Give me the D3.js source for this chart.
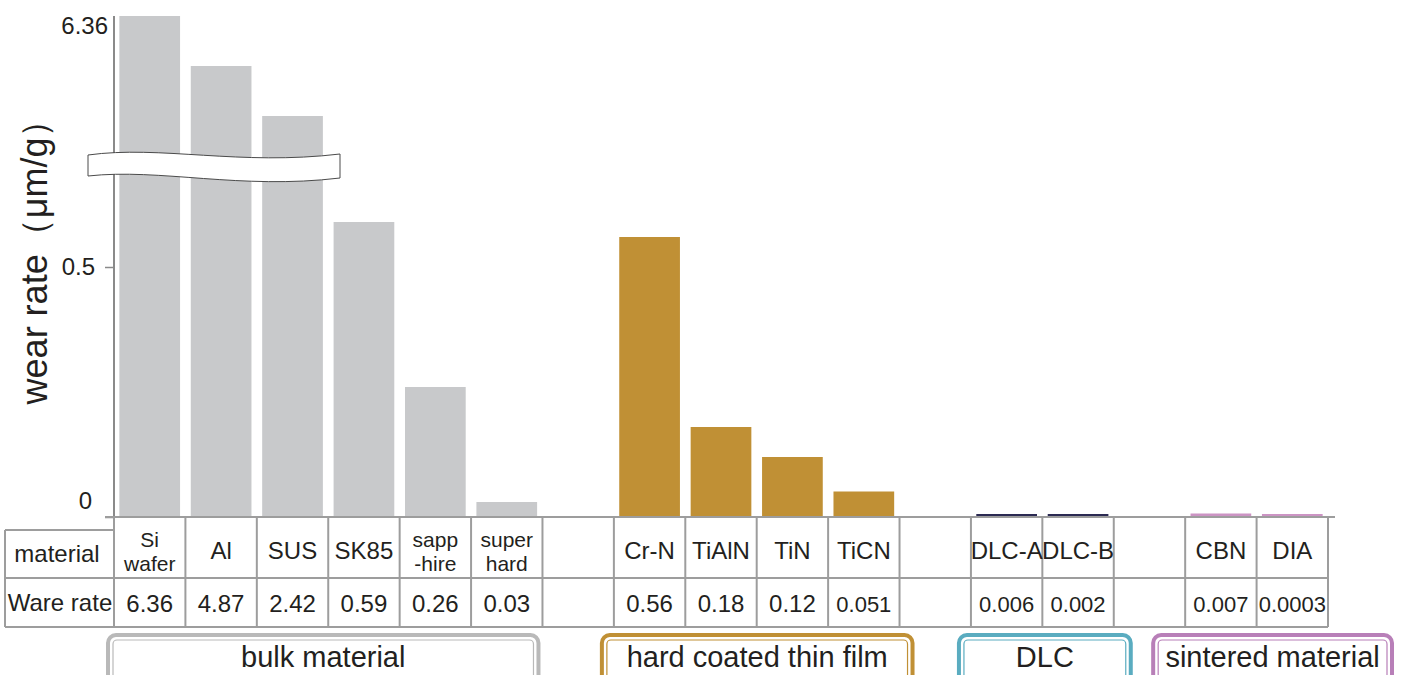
<!DOCTYPE html>
<html lang="en">
<head>
<meta charset="UTF-8" />
<title>Wear rate by material</title>
<style>
  body { margin: 0; background: #ffffff; }
  svg { display: block; font-family: 'Liberation Sans', Arial, Helvetica, sans-serif; }
  .grid { stroke: #9d9d9d; stroke-width: 2; fill: none; }
  .cell-text { fill: #231f20; font-size: 24px; }
</style>
<script src="https://d3js.org/d3.v7.min.js"></script>
</head>
<body>
<div id="viz"></div>
<script>
  // categories (blank slots separate the groups)
  const categories = ['Si wafer', 'Al', 'SUS', 'SK85', 'sapphire', 'superhard', 'gap1',
                      'Cr-N', 'TiAlN', 'TiN', 'TiCN', 'gap2',
                      'DLC-A', 'DLC-B', 'gap3', 'CBN', 'DIA'];
  const nameLabels = [['Si', 'wafer'], ['Al'], ['SUS'], ['SK85'], ['sapp', '-hire'], ['super', 'hard'], [],
                      ['Cr-N'], ['TiAlN'], ['TiN'], ['TiCN'], [],
                      ['DLC-A'], ['DLC-B'], [], ['CBN'], ['DIA']];
  const wearValues = [6.36, 4.87, 2.42, 0.59, 0.26, 0.03, null,
                      0.56, 0.18, 0.12, 0.051, null,
                      0.006, 0.002, null, 0.007, 0.0003];
  const valueLabels = ['6.36', '4.87', '2.42', '0.59', '0.26', '0.03', '',
                       '0.56', '0.18', '0.12', '0.051', '',
                       '0.006', '0.002', '', '0.007', '0.0003'];
  const groupOf = ['bulk', 'bulk', 'bulk', 'bulk', 'bulk', 'bulk', null,
                   'hard', 'hard', 'hard', 'hard', null,
                   'dlc', 'dlc', null, 'sint', 'sint'];
  const groupNames = ['bulk', 'hard', 'dlc', 'sint'];
  const groupLabels = ['bulk material', 'hard coated thin film', 'DLC', 'sintered material'];
  const groupColors = ['#c8c9cb', '#c09035', '#2b2a52', '#cc94c4'];
  const groupBorders = ['#b9b9b9', '#c09035', '#5aacc0', '#b87fb8'];
  const yTicks = [0, 0.5, 6.36];

  const width = 1403, height = 675;
  const svg = d3.select('#viz').append('svg')
    .attr('width', width).attr('height', height);

  // column scale (table) and bar scale share the same steps
  const xCol = d3.scaleBand().domain(categories).range([114, 1328]);
  const xBar = d3.scaleBand().domain(categories).range([114, 1328])
    .paddingInner(0.15).paddingOuter(0.075);

  // broken axis: linear below the break, compressed above it
  const y = d3.scaleLinear()
    .domain([0, 0.62, 2.42, 4.87, 6.36])
    .range([517, 207, 116, 66, 16]);

  const colour = d3.scaleOrdinal().domain(groupNames).range(groupColors);
  const border = d3.scaleOrdinal().domain(groupNames).range(groupBorders);

  const rows = categories.map((c, i) => ({
    cat: c, names: nameLabels[i], value: wearValues[i], label: valueLabels[i], group: groupOf[i]
  }));

  // bars (tiny values kept visible with a minimum height)
  const minH = 3;
  svg.append('g').selectAll('rect')
    .data(rows.filter(d => d.value !== null))
    .join('rect')
    .attr('x', d => xBar(d.cat))
    .attr('width', xBar.bandwidth())
    .attr('y', d => Math.min(y(d.value), y(0) - minH))
    .attr('height', d => Math.max(y(0) - y(d.value), minH))
    .attr('fill', d => colour(d.group));

  // y axis
  const yAxis = svg.append('g')
    .attr('transform', 'translate(114,0)')
    .call(d3.axisLeft(y).tickValues(yTicks).tickSize(9).tickPadding(10).tickFormat(d3.format('')));
  yAxis.select('.domain').remove();
  yAxis.selectAll('line').attr('stroke', '#8a8a8a').attr('stroke-width', 1.5);
  yAxis.selectAll('text').attr('fill', '#231f20').style('font-size', '24px')
    .style('font-family', "'Liberation Sans', Arial, sans-serif");
  yAxis.selectAll('.tick').filter(d => d === 6.36).select('line').remove();
  yAxis.selectAll('.tick').filter(d => d === 6.36).select('text').attr('dy', '0.74em').attr('x', -6);
  yAxis.selectAll('.tick').filter(d => d === 0).select('text').attr('dy', '-0.35em').attr('x', -22);
  yAxis.selectAll('.tick').filter(d => d === 0.5).select('text').attr('x', -19);
  svg.append('line')
    .attr('x1', 114).attr('x2', 114)
    .attr('y1', y(6.36)).attr('y2', y(0))
    .attr('stroke', '#8a8a8a').attr('stroke-width', 2);
  svg.append('line')
    .attr('x1', 105).attr('x2', 1335)
    .attr('y1', y(0)).attr('y2', y(0))
    .attr('stroke', '#9d9d9d').attr('stroke-width', 2);

  // axis break
  svg.append('path')
    .attr('d', 'M88,155 C160,145 240,166 340,154 L340,178 C240,190 160,168 88,176 Z')
    .attr('fill', '#ffffff').attr('stroke', '#4a4a4a').attr('stroke-width', 1);

  // y label
  svg.append('text')
    .attr('transform', 'translate(47,253) rotate(-90)')
    .attr('text-anchor', 'middle')
    .attr('fill', '#231f20')
    .style('font-size', '36px')
    .text('wear rate（μm/g）');

  // table
  const tTop = 517, tMid = 578, tBot = 627;
  const table = svg.append('g');
  table.append('path').attr('class', 'grid')
    .attr('d', `M5,530 H114 M5,${tMid} H1328 M5,${tBot} H1328 M5,530 V${tBot}`);
  table.selectAll('line.col')
    .data(categories.concat(['end']))
    .join('line')
    .attr('class', 'grid')
    .attr('x1', (d, i) => i < categories.length ? xCol(d) : xCol.range()[1])
    .attr('x2', (d, i) => i < categories.length ? xCol(d) : xCol.range()[1])
    .attr('y1', tTop).attr('y2', tBot);

  table.append('text').attr('class', 'cell-text')
    .attr('x', 57).attr('y', 554).attr('dy', '0.35em').attr('text-anchor', 'middle')
    .text('material');
  table.append('text').attr('class', 'cell-text')
    .attr('x', 60).attr('y', 603).attr('dy', '0.35em').attr('text-anchor', 'middle')
    .text('Ware rate');

  const cells = table.selectAll('g.cell').data(rows).join('g').attr('class', 'cell')
    .attr('transform', d => `translate(${xCol(d.cat) + xCol.bandwidth() / 2},0)`);
  cells.each(function (d) {
    const g = d3.select(this);
    const n = d.names.length;
    d.names.forEach((t, k) => {
      g.append('text').attr('class', 'cell-text')
        .attr('text-anchor', 'middle')
        .attr('y', n === 1 ? 551 : 540 + k * 24)
        .attr('dy', '0.35em')
        .style('font-size', n === 1 ? '24px' : '21px')
        .text(t);
    });
    g.append('text').attr('class', 'cell-text')
      .attr('text-anchor', 'middle')
      .attr('y', 604).attr('dy', '0.35em')
      .style('font-size', d.label.length > 4 ? '22px' : '24px')
      .text(d.label);
  });

  // group boxes: extent relative to the group's columns
  const boxPadL = [6, 12, 12, 32];
  const boxPadR = [-4, 13, 17, 64];
  groupNames.forEach((gName, i) => {
    const cats = categories.filter((c, k) => groupOf[k] === gName);
    const bx = xCol(cats[0]) - boxPadL[i];
    const bx1 = xCol(cats[cats.length - 1]) + xCol.bandwidth() + boxPadR[i];
    const w = bx1 - bx;
    const g = svg.append('g');
    g.append('rect')
      .attr('x', bx).attr('y', 635).attr('width', w).attr('height', 52)
      .attr('rx', 8).attr('fill', '#ffffff')
      .attr('stroke', border(gName)).attr('stroke-width', 4);
    g.append('rect')
      .attr('x', bx + 5).attr('y', 640).attr('width', w - 10).attr('height', 42)
      .attr('rx', 4).attr('fill', 'none')
      .attr('stroke', border(gName)).attr('stroke-width', 1.2);
    g.append('text')
      .attr('x', bx + w / 2).attr('y', 657).attr('dy', '0.35em')
      .attr('text-anchor', 'middle').attr('fill', '#231f20')
      .style('font-size', '29px')
      .text(groupLabels[i]);
  });
</script>
</body>
</html>
